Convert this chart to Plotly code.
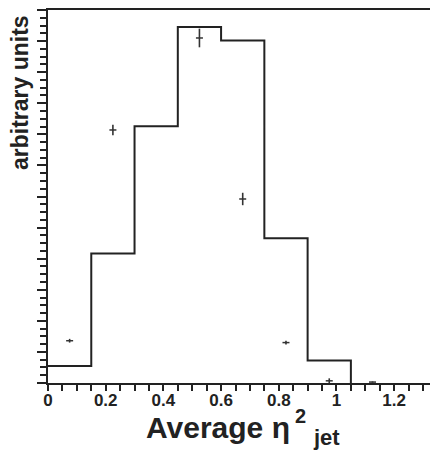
import plotly.graph_objects as go

# Histogram (bin edges and contents, arbitrary units)
bin_edges = [0.0, 0.15, 0.30, 0.45, 0.60, 0.75, 0.90, 1.05]
hist_values = [0.55, 4.17, 8.26, 11.45, 11.02, 4.66, 0.72]

# Data points with errors
pt_x = [0.075, 0.225, 0.525, 0.675, 0.825, 0.975, 1.125]
pt_y = [1.36, 8.14, 11.10, 5.92, 1.30, 0.07, 0.03]
pt_err = [0.06, 0.17, 0.30, 0.20, 0.06, 0.08, 0.02]

x_tickvals = [0, 0.2, 0.4, 0.6, 0.8, 1.0, 1.2]
x_ticktext = ["0", "0.2", "0.4", "0.6", "0.8", "1", "1.2"]

# page body has an 8px default margin; the figure is sized to fill the rest
OFF = 8
W, H = 438 - OFF, 458 - OFF
L, R, T, B = 40, 0, 2, 75
PW, PH = W - L - R, H - T - B


def px(xp):
    return (xp - OFF - L) / PW


def py(yp):
    return (H - B - (yp - OFF)) / PH


AX = "#222222"
FONT = "Liberation Sans, Arial, sans-serif"

fig = go.Figure()

step_x = bin_edges + [bin_edges[-1]]
step_y = hist_values + [hist_values[-1], 0]
fig.add_trace(go.Scatter(
    x=step_x, y=step_y, mode="lines", line=dict(shape="hv", color=AX, width=2),
    hoverinfo="skip", showlegend=False, cliponaxis=False,
))

fig.add_trace(go.Scatter(
    x=pt_x, y=pt_y, mode="markers",
    marker=dict(symbol="line-ew-open", size=5, color="#333333",
                line=dict(color="#333333", width=1.5)),
    error_y=dict(type="data", array=pt_err, visible=True, color="#333333", thickness=1.6, width=0),
    showlegend=False,
))

fig.update_layout(
    width=W, height=H,
    margin=dict(l=L, r=R, t=T, b=B, pad=0),
    paper_bgcolor="white", plot_bgcolor="white",
    font=dict(family=FONT, color="#222222"),
    showlegend=False,
)

fig.update_xaxes(
    range=[0, 1.352], showgrid=False, zeroline=False,
    showline=True, linecolor=AX, linewidth=2, mirror=True,
    ticks="outside", ticklen=6, tickwidth=1.5, tickcolor=AX,
    tickvals=x_tickvals, ticktext=x_ticktext, ticklabelstandoff=-5,
    tickfont=dict(family=FONT, size=17, weight="bold", color="#222222"),
    minor=dict(ticks="outside", ticklen=6, tickwidth=1.5, tickcolor=AX, dtick=0.05, tick0=0, showgrid=False),
)
fig.update_yaxes(
    range=[0, 12], showgrid=False, zeroline=False,
    showline=True, linecolor=AX, linewidth=2, mirror=False,
    ticks="outside", ticklen=9, tickwidth=1.5, tickcolor=AX,
    dtick=1, tick0=0, showticklabels=False,
    minor=dict(ticks="outside", ticklen=6, tickwidth=1.5, tickcolor=AX, dtick=0.25, tick0=0, showgrid=False),
)

annots = [
    dict(text="<b>Average η</b>", x=px(218), y=py(427), size=30),
    dict(text="<b>2</b>", x=px(300), y=py(416), size=20),
    dict(text="<b>jet</b>", x=px(326), y=py(438), size=22),
]
for a in annots:
    fig.add_annotation(
        text=a["text"], xref="paper", yref="paper", x=a["x"], y=a["y"],
        xanchor="center", yanchor="middle", showarrow=False,
        font=dict(family=FONT, size=a["size"], color="#222222"),
    )

fig.add_annotation(
    text="<b>arbitrary units</b>", xref="paper", yref="paper",
    x=px(20), y=py(93), xanchor="center", yanchor="middle",
    textangle=-90, showarrow=False,
    font=dict(family=FONT, size=23, color="#222222"),
)

fig.write_html("out.html")
